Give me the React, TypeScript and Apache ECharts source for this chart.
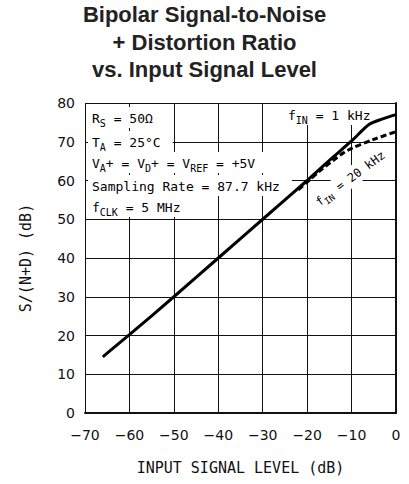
import React, { useEffect, useRef } from "react";
import * as echarts from "echarts";

const titleLines = ["Bipolar Signal-to-Noise", "+ Distortion Ratio", "vs. Input Signal Level"];
const xTicks = [-70, -60, -50, -40, -30, -20, -10, 0];
const yTicks = [0, 10, 20, 30, 40, 50, 60, 70, 80];

const f1kX = [-66, -60, -50, -40, -30, -20, -15, -10, -6, -3, 0];
const f1kY = [14.5, 20.2, 30, 40, 50, 60, 65.2, 70.2, 74.5, 75.9, 77];

const f20kX = [-22, -20, -17, -14, -12, -10, -5, 0];
const f20kY = [57.6, 59.6, 62.6, 65.3, 67, 68.3, 70.6, 72.6];

const MONO = "DejaVu Sans Mono";

const rich = {
  m: { fontFamily: MONO, fontSize: 13, color: "#111", lineHeight: 20 },
  s: { fontFamily: MONO, fontSize: 10, color: "#111", lineHeight: 10, height: 10, verticalAlign: "bottom" },
};

function note(text: string, x: number, yc: number, extra: any = {}) {
  return {
    type: "text",
    x,
    y: yc - 10 - 1,
    z: 1,
    style: {
      text,
      rich,
      backgroundColor: "#fff",
      padding: [1, 12, 0, 4],
      ...extra,
    },
  };
}

export default function App() {
  const ref = useRef<HTMLDivElement>(null);
  useEffect(() => {
    if (!ref.current) return;
    const chart = echarts.init(ref.current, null, { renderer: "svg" });
    const minus = (v: number) => String(v).replace("-", "\u2212");
    chart.setOption({
      animation: false,
      backgroundColor: "#fff",
      grid: { left: 85, right: 13, top: 103, bottom: 71 },
      title: {
        text: titleLines.join("\n"),
        left: "center",
        top: -4,
        textStyle: {
          fontFamily: "Liberation Sans",
          fontWeight: "bold",
          fontSize: 22,
          lineHeight: 27.5,
          color: "#222",
        },
      },
      xAxis: {
        type: "value",
        min: xTicks[0],
        max: xTicks[xTicks.length - 1],
        interval: 10,
        name: "INPUT SIGNAL LEVEL (dB)",
        nameLocation: "middle",
        nameGap: 47,
        nameTextStyle: { fontFamily: MONO, fontSize: 15, color: "#111" },
        axisLine: { show: true, lineStyle: { color: "#111", width: 2 } },
        axisTick: { show: false },
        axisLabel: {
          margin: 15,
          fontFamily: "DejaVu Sans",
          fontSize: 14,
          color: "#111",
          formatter: (v: number) => minus(v),
        },
        splitLine: { show: true, lineStyle: { color: "#111", width: 1 } },
      },
      yAxis: {
        type: "value",
        min: yTicks[0],
        max: yTicks[yTicks.length - 1],
        interval: 10,
        name: "S/(N+D) (dB)",
        nameLocation: "middle",
        nameGap: 52,
        nameTextStyle: { fontFamily: MONO, fontSize: 15, color: "#111" },
        axisLine: { show: true, lineStyle: { color: "#111", width: 2 } },
        axisTick: { show: false },
        axisLabel: {
          margin: 10,
          fontFamily: "DejaVu Sans",
          fontSize: 14,
          color: "#111",
        },
        splitLine: { show: true, lineStyle: { color: "#111", width: 1 } },
      },
      graphic: [
        note("{m|R}{s|S}{m| = 50\u03A9}", 88, 118),
        note("{m|T}{s|A}{m| = 25\u00B0C}", 88, 142),
        note("{m|V}{s|A}{m|+ = V}{s|D}{m|+ = V}{s|REF}{m| = +5V}", 88, 163),
        note("{m|Sampling Rate = 87.7 kHz}", 88, 186),
        note("{m|f}{s|CLK}{m| = 5 MHz}", 88, 207),
        note("{m|f}{s|IN}{m| = 1 kHz}", 284, 115, { padding: [1, 4, 0, 4] }),
        {
          type: "text",
          x: 350,
          y: 178,
          z: 1,
          rotation: 0.64,
          style: {
            text: "{m|f}{s|IN}{m| = 20 kHz}",
            rich: {
              m: { fontFamily: MONO, fontSize: 12, color: "#111", lineHeight: 18 },
              s: { fontFamily: MONO, fontSize: 9, color: "#111", lineHeight: 9, height: 9, verticalAlign: "bottom" },
            },
            align: "center",
            verticalAlign: "middle",
            backgroundColor: "#fff",
            padding: [1, 4, 0, 4],
          },
        },
      ],
      series: [
        {
          type: "line",
          name: "fIN = 1 kHz",
          data: f1kX.map((x, i) => [x, f1kY[i]]),
          showSymbol: false,
          smooth: 0.3,
          z: 3,
          lineStyle: { color: "#000", width: 3 },
        },
        {
          type: "line",
          name: "fIN = 20 kHz",
          data: f20kX.map((x, i) => [x, f20kY[i]]),
          showSymbol: false,
          smooth: 0.3,
          z: 4,
          lineStyle: { color: "#000", width: 3, type: [6, 3] },
        },
      ],
    });
    return () => chart.dispose();
  }, []);
  return <div ref={ref} style={{ width: 409, height: 484, position: "absolute", left: 0, top: 0 }} />;
}
